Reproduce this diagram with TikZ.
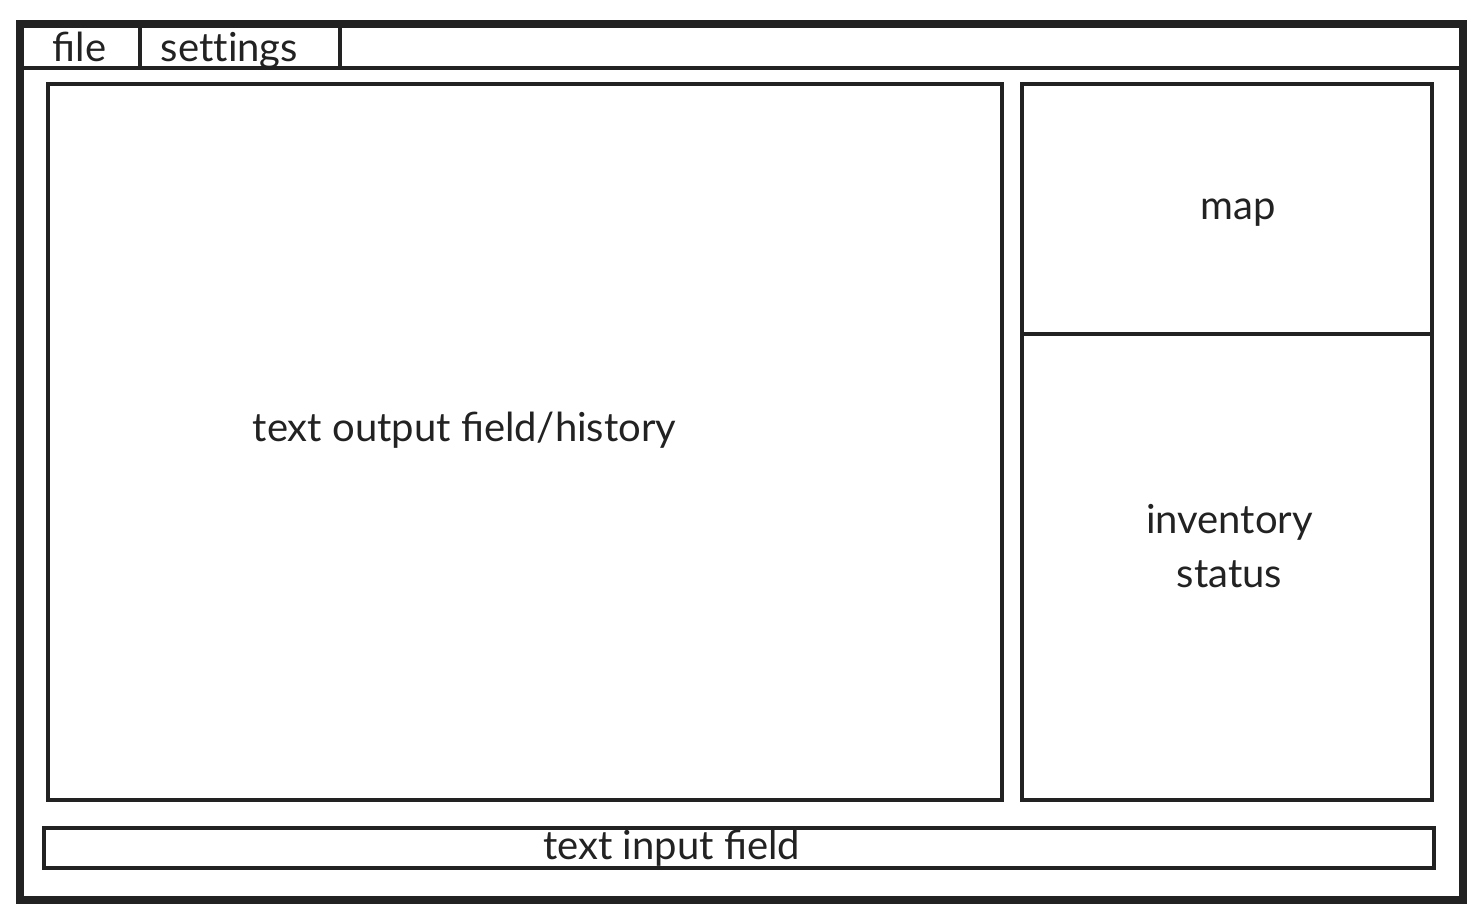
\documentclass[tikz,border=0pt]{standalone}
\usepackage{fontspec}
\setmainfont{Lato}
\definecolor{ink}{HTML}{222222}
\begin{document}
\begin{tikzpicture}[x=0.5pt,y=-0.5pt,
  frame/.style={draw=ink,line width=4pt},
  panel/.style={draw=ink,line width=2pt},
  lbl/.style={text=ink,font=\fontsize{20}{27}\selectfont,inner sep=0pt,align=center,anchor=base}]
\useasboundingbox (0,0) rectangle (1484,920);
\draw[frame] (20,24) rectangle (1463,900);
\coordinate (mbl) at (20,68);
\coordinate (mbr) at (1463,68);
\draw[panel] (mbl) -- (mbr);
\draw[panel] (140,24) -- (140,68);
\draw[panel] (340,24) -- (340,68);
\node[lbl] (file) at (79.5,62) {file};
\node[lbl] (settings) at (229.5,62) {\addfontfeatures{Ligatures=NoCommon}settings};
\draw[panel] (48,84) rectangle (1002,800);
\node[lbl] (out) at (464.5,441) {text output field/history};
\draw[panel] (1022,84) rectangle (1432,800);
\draw[panel] (1022,334) -- (1432,334);
\node[lbl] (map) at (1238,220) {map};
\node[lbl] (inv) at (1229.5,587) {inventory\\status};
\draw[panel] (44,828) rectangle (1434,868);
\node[lbl] (in) at (671.5,859) {text input field};
\end{tikzpicture}
\end{document}
